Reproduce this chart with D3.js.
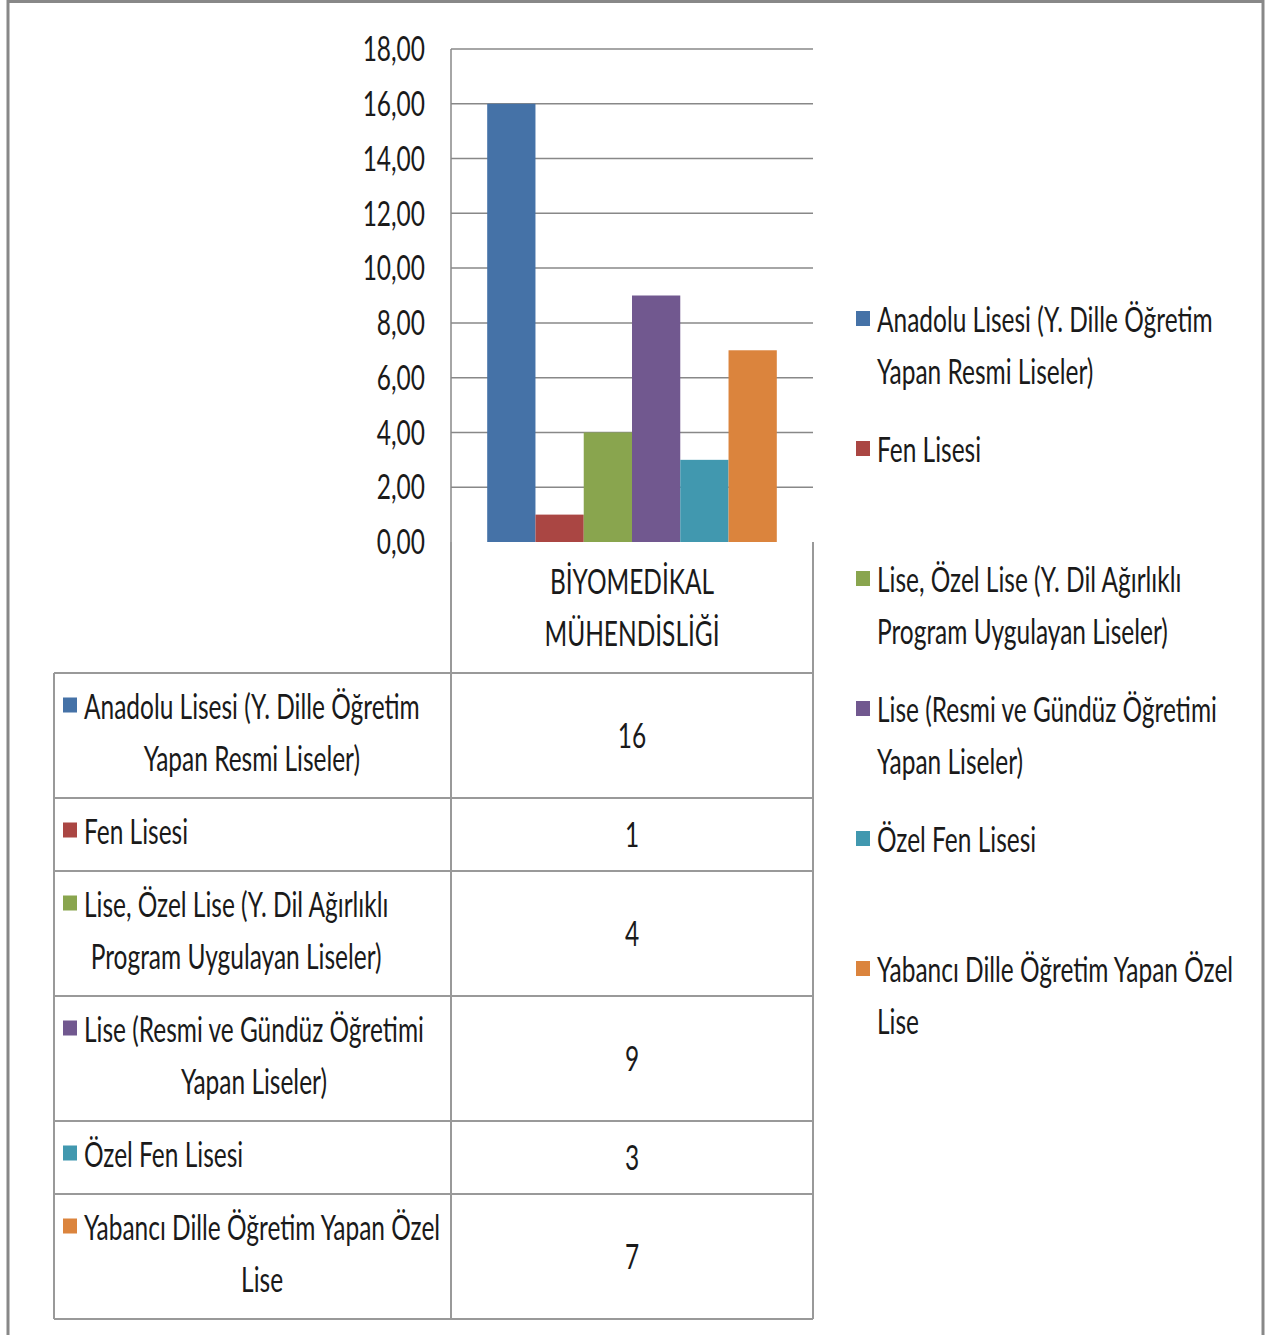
<!DOCTYPE html>
<html>
<head>
<meta charset="utf-8">
<script src="https://cdn.jsdelivr.net/npm/d3@7"></script>
<style>
  body { margin: 0; background: #fff; }
  text { font-family: Lato, "Open Sans", sans-serif; fill: #1a1a1a; }
</style>
</head>
<body>
<div id="chart"></div>
<script>
// chart data
var categories = ["BİYOMEDİKAL MÜHENDİSLİĞİ"];
var categoryLines = ["BİYOMEDİKAL", "MÜHENDİSLİĞİ"];
var seriesNames = [
    "Anadolu Lisesi (Y. Dille Öğretim Yapan Resmi Liseler)",
    "Fen Lisesi",
    "Lise, Özel Lise (Y. Dil Ağırlıklı Program Uygulayan Liseler)",
    "Lise (Resmi ve Gündüz Öğretimi Yapan Liseler)",
    "Özel Fen Lisesi",
    "Yabancı Dille Öğretim Yapan Özel Lise"
];
var seriesLines = [
    ["Anadolu Lisesi (Y. Dille Öğretim", "Yapan Resmi Liseler)"],
    ["Fen Lisesi"],
    ["Lise, Özel Lise (Y. Dil Ağırlıklı", "Program Uygulayan Liseler)"],
    ["Lise (Resmi ve Gündüz Öğretimi", "Yapan Liseler)"],
    ["Özel Fen Lisesi"],
    ["Yabancı Dille Öğretim Yapan Özel", "Lise"]
];
var values = [16, 1, 4, 9, 3, 7];
var colors = ["#4572A7", "#AA4643", "#89A54E", "#71588F", "#4198AF", "#DB843D"];
var yTicks = [0, 2, 4, 6, 8, 10, 12, 14, 16, 18];

var W = 1267, H = 1335;
var FS = 34, SX = 0.72, LH = 52;
var gridColor = "#888", tableColor = "#999";

var svg = d3.select("#chart").append("svg")
    .attr("width", W)
    .attr("height", H);

// outer border of the chart object (cut off at the bottom)
svg.append("rect")
    .attr("x", 8).attr("y", 1.5)
    .attr("width", 1255).attr("height", H + 20)
    .attr("fill", "none")
    .attr("stroke", "#888")
    .attr("stroke-width", 3);

function label(g, x, y, str, anchor) {
    return g.append("text")
        .attr("transform", "translate(" + x + "," + y + ") scale(" + SX + ",1)")
        .attr("text-anchor", anchor || "start")
        .attr("dy", "0.36em")
        .attr("font-size", FS)
        .text(str);
}

var plotL = 451, plotR = 813, plotT = 49, plotB = 542;

var y = d3.scaleLinear().domain([0, 18]).range([plotB, plotT]);
var x0 = d3.scaleBand().domain(categories).range([plotL, plotR]);
var x1 = d3.scaleBand().domain(seriesNames)
    .range([0, x0.bandwidth()])
    .paddingInner(0).paddingOuter(0.75);

// gridlines
svg.append("g").selectAll("line")
    .data(yTicks.slice(1))
    .enter().append("line")
    .attr("x1", plotL).attr("x2", plotR)
    .attr("y1", function (d) { return y(d); })
    .attr("y2", function (d) { return y(d); })
    .attr("stroke", gridColor)
    .attr("stroke-width", 1.5);

// y labels
var yl = svg.append("g");
yTicks.forEach(function (t) {
    label(yl, 425, y(t), d3.format(".2f")(t).replace(".", ","), "end");
});

// bars
svg.append("g").selectAll("rect")
    .data(values)
    .enter().append("rect")
    .attr("x", function (d, i) { return x0(categories[0]) + x1(seriesNames[i]); })
    .attr("y", function (d) { return y(d); })
    .attr("width", x1.bandwidth())
    .attr("height", function (d) { return y(0) - y(d); })
    .attr("fill", function (d, i) { return colors[i]; });

// axis line
svg.append("line")
    .attr("x1", plotL).attr("x2", plotL)
    .attr("y1", plotT).attr("y2", plotB)
    .attr("stroke", gridColor).attr("stroke-width", 1.5);

// ---- data table ----
var tableL = 54, headTop = plotB, headBot = 673;
var rowTops = [headBot];
seriesLines.forEach(function (ls) {
    rowTops.push(rowTops[rowTops.length - 1] + 21 + LH * ls.length);
});
var tableBot = rowTops[rowTops.length - 1];

var tg = svg.append("g");
// category header text
var headMid = (headTop + headBot) / 2;
categoryLines.forEach(function (s, k) {
    label(tg, (plotL + plotR) / 2, headMid + (k - (categoryLines.length - 1) / 2) * LH, s, "middle");
});

// rows
seriesLines.forEach(function (ls, i) {
    var mid = (rowTops[i] + rowTops[i + 1]) / 2;
    var first = mid - (ls.length - 1) / 2 * LH - 3;
    tg.append("rect")
        .attr("x", 63).attr("y", first - 9)
        .attr("width", 14).attr("height", 15)
        .attr("fill", colors[i]);
    var t0 = label(tg, 84, first, ls[0], "start");
    var w0 = t0.node().getComputedTextLength() * SX;
    for (var k = 1; k < ls.length; k++) {
        label(tg, 84 + w0 / 2, first + k * LH, ls[k], "middle");
    }
    label(tg, (plotL + plotR) / 2, mid, String(values[i]), "middle");
});

// table lines
var lines = [];
lines.push([plotL, headTop, plotL, tableBot]);
lines.push([plotR, headTop, plotR, tableBot]);
lines.push([tableL, headBot, tableL, tableBot]);
rowTops.forEach(function (r) { lines.push([tableL, r, plotR, r]); });
tg.selectAll("line")
    .data(lines)
    .enter().append("line")
    .attr("x1", function (d) { return d[0]; })
    .attr("y1", function (d) { return d[1]; })
    .attr("x2", function (d) { return d[2]; })
    .attr("y2", function (d) { return d[3]; })
    .attr("stroke", tableColor)
    .attr("stroke-width", 2);

// ---- legend ----
var ly = d3.scalePoint().domain(seriesNames).range([320, 970]);
var lg = svg.append("g");
seriesNames.forEach(function (n, i) {
    var yy = ly(n);
    lg.append("rect")
        .attr("x", 856).attr("y", yy - 9)
        .attr("width", 14).attr("height", 15)
        .attr("fill", colors[i]);
    seriesLines[i].forEach(function (s, k) {
        label(lg, 877, yy + k * LH, s, "start");
    });
});
</script>
</body>
</html>
